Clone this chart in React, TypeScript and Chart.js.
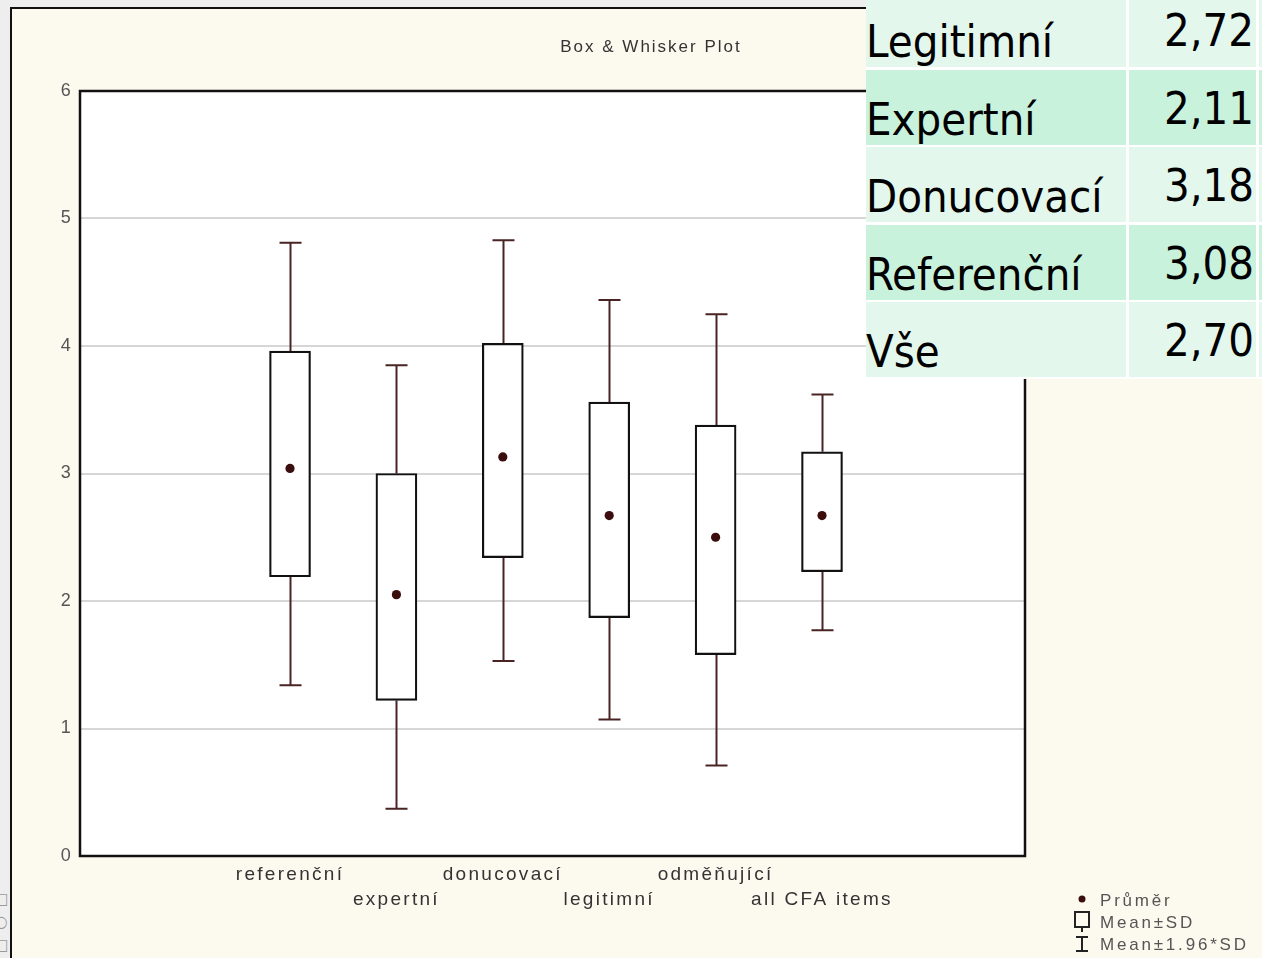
import React, { useEffect, useRef } from 'react';
import { Chart, registerables } from 'chart.js';

Chart.register(...registerables);

// ---- data ----
const categories = ['referenční', 'expertní', 'donucovací', 'legitimní', 'odměňující', 'all CFA items'];
const means = [3.04, 2.05, 3.13, 2.67, 2.5, 2.67];
const sdLow = [2.19, 1.22, 2.34, 1.87, 1.58, 2.23];
const sdHigh = [3.96, 3.0, 4.02, 3.56, 3.38, 3.17];
const ciLow = [1.34, 0.37, 1.53, 1.07, 0.71, 1.77];
const ciHigh = [4.81, 3.85, 4.83, 4.36, 4.25, 3.62];
const yTicks = [0, 1, 2, 3, 4, 5, 6];
const titleText = 'Box & Whisker Plot';
const legendLabels = ['Průměr', 'Mean±SD', 'Mean±1.96*SD'];
const tableLabels = ['Legitimní', 'Expertní', 'Donucovací', 'Referenční', 'Vše'];
const tableValues = ['2,72', '2,11', '3,18', '3,08', '2,70'];

const NARROW = '"Liberation Sans Narrow", "Arial Narrow", "Liberation Sans", Arial, sans-serif';
const TABLE_FONT = '"DejaVu Sans Condensed", "DejaVu Sans", Verdana, sans-serif';

export default function App() {
  const ref = useRef<HTMLCanvasElement>(null);

  useEffect(() => {
    const canvas = ref.current!;
    const boxPlugin = {
      id: 'boxExtras',
      beforeDraw(chart: any) {
        const { ctx, chartArea: a } = chart;
        ctx.save();
        ctx.fillStyle = '#ffffff';
        ctx.fillRect(a.left, a.top, a.right - a.left, a.bottom - a.top);
        ctx.restore();
        ctx.letterSpacing = '2.3px';
      },
      beforeDatasetsDraw(chart: any) {
        const { ctx, scales } = chart;
        ctx.letterSpacing = '0px';
        const x = scales.x;
        const y = scales.y;
        ctx.save();
        ctx.strokeStyle = '#4a2424';
        ctx.lineWidth = 2;
        categories.forEach((_, i) => {
          const px = Math.round(x.getPixelForValue(i)) + 0.5;
          const segs: [number, number][] = [
            [sdHigh[i], ciHigh[i]],
            [sdLow[i], ciLow[i]],
          ];
          segs.forEach(([from, to]) => {
            const y0 = y.getPixelForValue(from);
            const y1 = y.getPixelForValue(to);
            ctx.beginPath();
            ctx.moveTo(px, y0);
            ctx.lineTo(px, y1);
            ctx.moveTo(px - 11, y1);
            ctx.lineTo(px + 11, y1);
            ctx.stroke();
          });
        });
        ctx.restore();
      },
      afterDraw(chart: any) {
        const { ctx, chartArea: a } = chart;
        ctx.save();
        // plot frame
        ctx.strokeStyle = '#111';
        ctx.lineWidth = 2.5;
        ctx.strokeRect(a.left, a.top, a.right - a.left, a.bottom - a.top);
        // title
        ctx.letterSpacing = '2px';
        ctx.fillStyle = '#333';
        ctx.font = `17px ${NARROW}`;
        ctx.textAlign = 'center';
        ctx.textBaseline = 'middle';
        ctx.fillText(titleText, 651, 47);
        // legend
        ctx.letterSpacing = '2.8px';
        ctx.font = `17px ${NARROW}`;
        ctx.textAlign = 'left';
        ctx.textBaseline = 'alphabetic';
        ctx.fillStyle = '#555';
        const tx = 1100;
        const baselines = [906, 928, 950];
        legendLabels.forEach((t, i) => ctx.fillText(t, tx, baselines[i]));
        // symbols
        ctx.fillStyle = '#3b0d0d';
        ctx.beginPath();
        ctx.arc(1082, 899, 3.5, 0, Math.PI * 2);
        ctx.fill();
        ctx.strokeStyle = '#222';
        ctx.lineWidth = 2;
        ctx.strokeRect(1075, 912, 14, 15);
        ctx.beginPath();
        ctx.moveTo(1082, 927);
        ctx.lineTo(1082, 932);
        ctx.moveTo(1082, 937);
        ctx.lineTo(1082, 951);
        ctx.moveTo(1076, 937);
        ctx.lineTo(1088, 937);
        ctx.moveTo(1076, 951);
        ctx.lineTo(1088, 951);
        ctx.stroke();
        ctx.restore();
      },
    };

    const chart = new Chart(canvas, {
      type: 'bar',
      data: {
        datasets: [
          {
            type: 'bar',
            order: 2,
            data: categories.map((_, i) => ({ x: i, y: [sdLow[i], sdHigh[i]] })) as any,
            backgroundColor: '#ffffff',
            borderColor: '#111111',
            borderWidth: 2.2,
            borderSkipped: false,
            barThickness: 41,
          } as any,
          {
            type: 'scatter',
            order: 1,
            data: categories.map((_, i) => ({ x: i, y: means[i] })),
            pointRadius: 4.6,
            pointBackgroundColor: '#3b0d0d',
            pointBorderColor: '#3b0d0d',
            pointBorderWidth: 0,
            showLine: false,
          } as any,
        ],
      },
      options: {
        responsive: false,
        animation: false,
        devicePixelRatio: 1,
        layout: { padding: { top: 91, right: 237, left: 0, bottom: 0 } },
        plugins: {
          legend: { display: false },
          tooltip: { enabled: false },
          title: { display: false },
        },
        scales: {
          x: {
            type: 'linear',
            offset: false,
            min: -1.974,
            max: 6.908,
            grid: { display: false, drawTicks: false, offset: false },
            border: { display: false },
            afterBuildTicks: (scale: any) => {
              scale.ticks = categories.map((_, i) => ({ value: i }));
            },
            afterFit: (scale: any) => {
              scale.height = 102;
            },
            ticks: {
              autoSkip: false,
              maxRotation: 0,
              minRotation: 0,
              padding: 6,
              color: '#333',
              font: { family: NARROW, size: 19, lineHeight: 25 / 19 },
              callback: (v: any) => {
                const i = Math.round(Number(v));
                const label = categories[i] ?? '';
                return i % 2 ? ['', label] : label;
              },
            },
          },
          y: {
            type: 'linear',
            min: yTicks[0],
            max: yTicks[yTicks.length - 1],
            grid: { color: '#d6d6d6', lineWidth: 2, drawTicks: false },
            border: { display: false },
            afterFit: (scale: any) => {
              scale.width = 80;
            },
            afterBuildTicks: (scale: any) => {
              scale.ticks = yTicks.map((v) => ({ value: v }));
            },
            ticks: {
              padding: 7,
              color: '#555',
              font: { family: NARROW, size: 18 },
              callback: (v: any) => String(v),
            },
          },
        },
      } as any,
      plugins: [boxPlugin],
    });
    return () => chart.destroy();
  }, []);

  return (
    <div
      style={{
        position: 'absolute',
        left: 0,
        top: 0,
        width: 1262,
        height: 958,
        background: '#eeeeee',
        overflow: 'hidden',
      }}
    >
      <div
        style={{
          position: 'absolute',
          left: 10,
          top: 7,
          right: 0,
          bottom: 0,
          background: '#fcf9ef',
          borderLeft: '2px solid #111',
          borderTop: '2px solid #111',
        }}
      />
      {['□', '○', '□'].map((g, i) => (
        <span
          key={i}
          style={{
            position: 'absolute',
            left: -5,
            top: 890 + i * 23,
            fontFamily: TABLE_FONT,
            fontSize: 16,
            lineHeight: '18px',
            color: '#9a9a9a',
          }}
        >
          {g}
        </span>
      ))}
      <canvas
        ref={ref}
        width={1262}
        height={958}
        style={{ position: 'absolute', left: 0, top: 0, width: 1262, height: 958 }}
      />
      <div style={{ position: 'absolute', left: 866, top: 0, width: 396, height: 379, background: '#ffffff' }} />
      {tableLabels.map((lab, i) => {
        const top = -8 + i * 77.6;
        const bg = i % 2 ? '#c9f2dd' : '#e3f7ed';
        const textStyle: React.CSSProperties = {
          position: 'absolute',
          fontFamily: TABLE_FONT,
          fontSize: 45,
          lineHeight: 1,
          color: '#000',
          whiteSpace: 'nowrap',
        };
        return (
          <React.Fragment key={lab}>
            <div style={{ position: 'absolute', left: 866, top, width: 260, height: 75, background: bg }}>
              <span style={{ ...textStyle, left: 0, bottom: 3 }}>{lab}</span>
            </div>
            <div style={{ position: 'absolute', left: 1129, top, width: 127, height: 75, background: bg }}>
              <span style={{ ...textStyle, right: 2, bottom: 14 }}>{tableValues[i]}</span>
            </div>
            <div style={{ position: 'absolute', left: 1259, top, width: 10, height: 75, background: bg }} />
          </React.Fragment>
        );
      })}
    </div>
  );
}
